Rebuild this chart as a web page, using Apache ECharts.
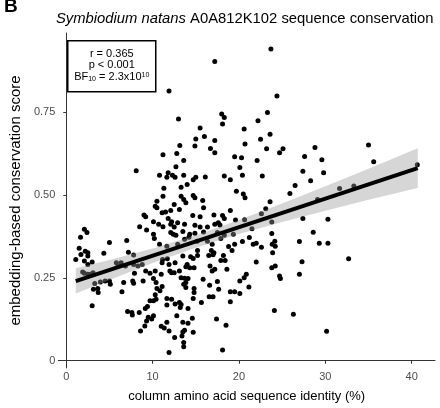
<!DOCTYPE html>
<html>
<head>
<meta charset="UTF-8">
<title></title>
<style>html,body{margin:0;padding:0;background:#fff;}</style>
</head>
<body>
<div id="box" style="width:440px;height:408px;"></div>
<script src="https://cdn.jsdelivr.net/npm/echarts@6/dist/echarts.min.js"></script>
<script>
// [identity %, conservation score]
var pointsTop = [
  [11.9,0.815],[13.0,0.730],[13.15,0.65],[23.7,0.942],[17.2,0.904],[24.4,0.80],[23.3,0.75],[18.0,0.745],[18.3,0.735],[22.2,0.725],
  [15.5,0.703],[18.1,0.715],[20.6,0.70],[15.0,0.67],[16.0,0.677],[17.2,0.665],[22.5,0.669],[23.6,0.684],[14.9,0.649],[16.7,0.641],
  [20.7,0.655],[23.2,0.64],[25.1,0.64],[28.8,0.644],[35.0,0.652]
];
var pointsLeftMid = [
  [11.2,0.622],[12.8,0.626],[8.1,0.574],[12.7,0.586],[10.8,0.56],[11.8,0.568],[11.65,0.554],[12.3,0.56],[12.6,0.554],[11.3,0.521],
  [11.2,0.497],[10.5,0.482],[10.3,0.467],[10.5,0.462],[12.5,0.472],[13.1,0.457],[11.1,0.447],[11.5,0.449],[12.1,0.454],[9.0,0.44],
  [9.2,0.435],[11.8,0.43],[10.1,0.42],[12.2,0.42],[12.9,0.417],[10.7,0.412],[12.1,0.412],[8.5,0.405],[9.3,0.395],[11.2,0.405],
  [12.5,0.404],[2.1,0.397],[2.4,0.387],[1.65,0.373],[5.0,0.357],[7.0,0.363],[10.1,0.382],[10.2,0.369],[12.1,0.387],[12.4,0.382],
  [10.8,0.352],[11.65,0.346],[12.9,0.352],[1.5,0.34],[2.2,0.331],[2.5,0.326],[4.35,0.325],[7.2,0.328],[13.6,0.605],[13.6,0.56],
  [13.3,0.524],[13.3,0.497],[13.6,0.487],[13.7,0.412],[13.5,0.39],[12.7,0.379]
];
var pointsRightMid = [
  [17.2,0.628],[19.5,0.616],[20.3,0.613],[24.7,0.628],[22.1,0.605],[27.6,0.617],[20.1,0.584],[20.4,0.56],[15.0,0.554],[14.7,0.547],
  [16.1,0.555],[18.3,0.558],[19.0,0.547],[22.7,0.558],[27.4,0.572],[28.3,0.544],[14.0,0.532],[26.5,0.529],[19.7,0.512],[20.5,0.504],
  [20.7,0.492],[25.9,0.505],[14.7,0.499],[14.9,0.492],[15.8,0.484],[13.85,0.477],[15.9,0.462],[19.0,0.454],[23.6,0.48],[23.1,0.459],
  [14.65,0.439],[15.5,0.435],[17.1,0.44],[18.1,0.439],[18.3,0.43],[20.65,0.426],[22.6,0.444],[23.8,0.419],[27.4,0.43],[14.9,0.409],
  [15.5,0.404],[16.35,0.404],[17.2,0.412],[17.6,0.417],[17.8,0.41],[19.6,0.425],[21.5,0.399],[14.3,0.382],[14.9,0.385],[15.9,0.389],
  [17.5,0.387],[18.3,0.379],[19.35,0.382],[23.8,0.384],[24.15,0.361],[27.0,0.36],[14.2,0.373],[13.7,0.367],[15.15,0.361],[16.35,0.361],
  [16.9,0.352],[17.9,0.369],[18.8,0.345],[19.5,0.352],[20.4,0.36],[21.2,0.372],[21.65,0.352],[22.0,0.355],[22.6,0.343],[23.85,0.352],
  [24.2,0.346],[15.2,0.333],[16.8,0.333],[17.1,0.326],[19.2,0.333],
  [29.6,0.607],[35.6,0.601],[40.65,0.592],[29.8,0.568],[31.65,0.52],[33.3,0.528],[29.1,0.487],[30.3,0.427],[28.6,0.388],[29.3,0.355],
  [30.3,0.355]
];
var pointsLowRight = [
  [27.3,0.299],[32.7,0.308],[27.0,0.261],[30.15,0.089],
  [13.5,0.316],[14.4,0.314],[14.7,0.309],[15.2,0.318],[16.5,0.318],[17.0,0.32],[18.2,0.318],[17.9,0.303],[18.4,0.303],[23.9,0.326],
  [22.0,0.298],[14.0,0.291],[13.85,0.284],[14.3,0.281],[14.8,0.281],[16.65,0.286],[16.9,0.271],[17.2,0.276],[18.6,0.276],[23.8,0.281],
  [24.2,0.286],[24.7,0.256],[24.8,0.248],[20.85,0.261],[20.6,0.251],[20.1,0.241],[21.15,0.223],[15.85,0.246],[17.5,0.239],[16.6,0.228],
  [17.65,0.216],[13.3,0.251],[13.7,0.249],[14.1,0.248],[13.85,0.236],[13.6,0.231],[13.85,0.221],[14.8,0.218],[14.8,0.206],[19.0,0.208],
  [19.5,0.208],[20.1,0.203],[16.55,0.193],[17.0,0.193],[14.7,0.188],[19.0,0.178],[15.65,0.176],[13.3,0.17],[14.1,0.158],[24.1,0.152],
  [26.3,0.14],[17.4,0.126],[14.6,0.128],[13.5,0.116],[14.1,0.113],[18.5,0.107],[13.7,0.092],[13.5,0.087],[14.7,0.086],[13.6,0.055],
  [13.6,0.042],[18.1,0.032],[13.2,0.161],[13.4,0.075]
];
var pointsLowLeft = [
  [1.1,0.306],[1.7,0.321],[2.5,0.316],[2.1,0.301],[2.5,0.291],[3.0,0.298],[5.8,0.296],[6.35,0.296],[6.0,0.286],[7.8,0.319],
  [8.3,0.286],[8.8,0.291],[7.8,0.291],[6.85,0.286],[2.1,0.264],[2.5,0.261],[2.8,0.261],[1.9,0.268],[3.1,0.266],[3.3,0.233],
  [3.15,0.216],[3.65,0.218],[3.7,0.206],[3.95,0.238],[4.5,0.241],[5.0,0.241],[5.1,0.231],[3.0,0.166],[6.45,0.208],[6.65,0.236],
  [7.7,0.241],[7.8,0.234],[7.9,0.264],[9.2,0.271],[9.7,0.264],[8.9,0.241],[10.3,0.271],[10.4,0.236],[10.1,0.248],[10.5,0.218],
  [11.0,0.261],[11.1,0.296],[11.15,0.306],[11.7,0.308],[11.9,0.291],[12.6,0.296],[12.0,0.271],[12.2,0.266],[12.5,0.266],[13.1,0.271],
  [11.1,0.224],[10.85,0.211],[10.3,0.199],[9.7,0.181],[10.1,0.181],[10.4,0.186],[11.65,0.168],[11.65,0.188],[12.2,0.186],[12.6,0.171],
  [13.1,0.176],[7.1,0.149],[7.6,0.146],[8.45,0.146],[9.15,0.158],[9.4,0.164],[9.5,0.131],[9.9,0.126],[10.1,0.136],[9.3,0.12],
  [9.1,0.105],[8.6,0.09],[11.0,0.104],[11.35,0.099],[11.65,0.116],[11.9,0.09],[12.55,0.07],[12.8,0.136],[11.9,0.025],[7.65,0.138]
];

// linear fit and its confidence band
var fitX = [1.1, 40.7];
var fitY = [0.2405, 0.582];
var bandX = [1.1, 5, 10, 15, 20, 25, 30, 35, 40.7];
var bandLow = [0.203, 0.244, 0.295, 0.341, 0.383, 0.419, 0.453, 0.486, 0.522];
var bandHigh = [0.279, 0.304, 0.339, 0.379, 0.425, 0.475, 0.527, 0.580, 0.642];

var xTicks = [0, 10, 20, 30, 40];
var yTicks = [0, 0.25, 0.5, 0.75];

var allPoints = pointsTop.concat(pointsLeftMid, pointsRightMid, pointsLowRight, pointsLowLeft);

var font = 'Liberation Sans, Arial, sans-serif';
var myechart = echarts.init(document.getElementById('box'));

var option = {
  animation: false,
  backgroundColor: '#fff',
  title: {
    text: '{i|Symbiodium natans} A0A812K102 sequence conservation',
    left: 56,
    top: 11,
    padding: 0,
    textStyle: {
      fontFamily: font, fontSize: 14.8, fontWeight: 'normal', color: '#000',
      rich: { i: { fontFamily: font, fontSize: 14.8, fontStyle: 'italic', color: '#000' } }
    }
  },
  grid: { left: 57, right: 5, top: 33, bottom: 39, containLabel: false },
  xAxis: {
    type: 'value', min: -0.92, max: 42.7,
    name: 'column amino acid sequence identity (%)',
    nameLocation: 'middle', nameGap: 22,
    nameTextStyle: { fontFamily: font, fontSize: 13, color: '#000' },
    axisLine: { show: true, lineStyle: { color: '#333', width: 1 } },
    axisTick: { show: true, length: 3, customValues: xTicks, lineStyle: { color: '#333' } },
    axisLabel: { customValues: xTicks, margin: 3, fontFamily: font, fontSize: 11, color: '#4d4d4d' },
    splitLine: { show: false }
  },
  yAxis: {
    type: 'value', min: -0.022, max: 0.99,
    name: 'embedding-based conservation score',
    nameLocation: 'middle', nameGap: 26,
    nameTextStyle: { fontFamily: font, fontSize: 15, color: '#000' },
    axisLine: { show: true, lineStyle: { color: '#333', width: 1 } },
    axisTick: { show: true, length: 3, customValues: yTicks, lineStyle: { color: '#333' } },
    axisLabel: {
      customValues: yTicks, margin: 3, fontFamily: font, fontSize: 11, color: '#4d4d4d',
      formatter: function (v) { return v === 0 ? '0' : v.toFixed(2); }
    },
    splitLine: { show: false }
  },
  graphic: [
    { type: 'text', left: 4, top: -3, style: { text: 'B', font: 'bold 19px ' + font, fill: '#000' } },
    {
      type: 'group', left: 67, top: 40,
      children: [
        { type: 'rect', shape: { x: 0, y: 0, width: 88, height: 51 }, style: { fill: '#fff', stroke: '#000', lineWidth: 1.5 } },
        { type: 'text', x: 44, y: 13, style: { text: 'r = 0.365', font: '11px ' + font, fill: '#000', align: 'center', verticalAlign: 'middle' } },
        { type: 'text', x: 44, y: 24.5, style: { text: 'p < 0.001', font: '11px ' + font, fill: '#000', align: 'center', verticalAlign: 'middle' } },
        {
          type: 'text', x: 44, y: 36, style: {
            text: 'BF{sub|10} = 2.3x10{sup|10}', font: '11px ' + font, fill: '#000', align: 'center', verticalAlign: 'middle',
            rich: {
              sub: { fontSize: 7, fontFamily: font, verticalAlign: 'bottom', padding: [4, 0, 0, 0] },
              sup: { fontSize: 7, fontFamily: font, verticalAlign: 'top', padding: [0, 0, 4, 0] }
            }
          }
        }
      ]
    }
  ],
  series: [
    {
      name: 'columns', type: 'scatter', data: allPoints, symbolSize: 5, z: 2,
      itemStyle: { color: '#000', opacity: 1 }
    },
    {
      name: 'band', type: 'custom', z: 3, data: [[0]],
      renderItem: function (params, api) {
        var pts = [];
        for (var i = 0; i < bandX.length; i++) pts.push(api.coord([bandX[i], bandHigh[i]]));
        for (var j = bandX.length - 1; j >= 0; j--) pts.push(api.coord([bandX[j], bandLow[j]]));
        return { type: 'polygon', shape: { points: pts }, style: { fill: 'rgba(153,153,153,0.4)' } };
      },
      silent: true
    },
    {
      name: 'fit', type: 'line', z: 4, data: [[fitX[0], fitY[0]], [fitX[1], fitY[1]]],
      symbol: 'none', lineStyle: { color: '#000', width: 4 }, silent: true
    }
  ]
};

myechart.setOption(option);
</script>
</body>
</html>
